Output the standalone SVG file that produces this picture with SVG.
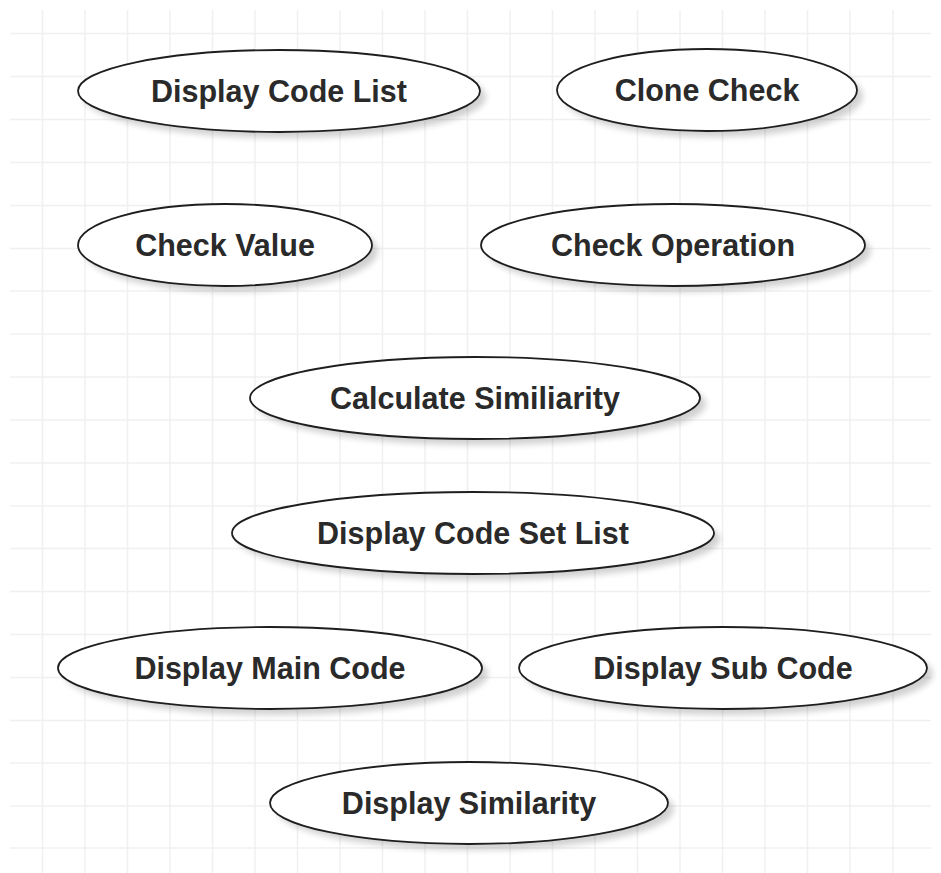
<svg xmlns="http://www.w3.org/2000/svg" width="941" height="873" viewBox="0 0 941 873">
<style>
.grid line{stroke:#f0f0f0;stroke-width:1.5}
.node ellipse{fill:#fff;stroke:#1e1e1e;stroke-width:1.8}
.node .sh{fill:#000;stroke:none;opacity:0.18;filter:url(#blur)}
.node text{font-family:"Liberation Sans",Arial,sans-serif;font-weight:bold;font-size:30.5px;fill:#2a2a2a;text-anchor:middle}
</style>
<defs>
<filter id="blur" x="-20%" y="-50%" width="140%" height="200%"><feGaussianBlur stdDeviation="3"/></filter>
</defs>
<rect width="941" height="873" fill="#fff"/>
<g class="grid">
<line x1="42.5" y1="10" x2="42.5" y2="873"/><line x1="85" y1="10" x2="85" y2="873"/><line x1="127.5" y1="10" x2="127.5" y2="873"/><line x1="170" y1="10" x2="170" y2="873"/><line x1="212.5" y1="10" x2="212.5" y2="873"/><line x1="255" y1="10" x2="255" y2="873"/><line x1="297.5" y1="10" x2="297.5" y2="873"/><line x1="340" y1="10" x2="340" y2="873"/><line x1="382.5" y1="10" x2="382.5" y2="873"/><line x1="425" y1="10" x2="425" y2="873"/><line x1="467.5" y1="10" x2="467.5" y2="873"/><line x1="510" y1="10" x2="510" y2="873"/><line x1="552.5" y1="10" x2="552.5" y2="873"/><line x1="595" y1="10" x2="595" y2="873"/><line x1="637.5" y1="10" x2="637.5" y2="873"/><line x1="680" y1="10" x2="680" y2="873"/><line x1="722.5" y1="10" x2="722.5" y2="873"/><line x1="765" y1="10" x2="765" y2="873"/><line x1="807.5" y1="10" x2="807.5" y2="873"/><line x1="850" y1="10" x2="850" y2="873"/><line x1="893" y1="10" x2="893" y2="873"/>
<line x1="10" y1="33.5" x2="931" y2="33.5"/><line x1="10" y1="76.5" x2="931" y2="76.5"/><line x1="10" y1="119.5" x2="931" y2="119.5"/><line x1="10" y1="162.5" x2="931" y2="162.5"/><line x1="10" y1="205.5" x2="931" y2="205.5"/><line x1="10" y1="248.5" x2="931" y2="248.5"/><line x1="10" y1="291" x2="931" y2="291"/><line x1="10" y1="334" x2="931" y2="334"/><line x1="10" y1="377" x2="931" y2="377"/><line x1="10" y1="420" x2="931" y2="420"/><line x1="10" y1="463" x2="931" y2="463"/><line x1="10" y1="506" x2="931" y2="506"/><line x1="10" y1="548.5" x2="931" y2="548.5"/><line x1="10" y1="591.5" x2="931" y2="591.5"/><line x1="10" y1="634.5" x2="931" y2="634.5"/><line x1="10" y1="677.5" x2="931" y2="677.5"/><line x1="10" y1="720.5" x2="931" y2="720.5"/><line x1="10" y1="763" x2="931" y2="763"/><line x1="10" y1="806" x2="931" y2="806"/><line x1="10" y1="848" x2="931" y2="848"/>
</g>
<g id="connectors"></g>
<g id="display-code-list" class="node"><ellipse class="sh" cx="285" cy="97" rx="201" ry="41"/><ellipse cx="279" cy="91" rx="201" ry="41"/><text x="279" y="102">Display Code List</text></g>
<g id="clone-check" class="node"><ellipse class="sh" cx="713" cy="96" rx="150" ry="41"/><ellipse cx="707" cy="90" rx="150" ry="41"/><text x="707" y="101">Clone Check</text></g>
<g id="check-value" class="node"><ellipse class="sh" cx="231" cy="251" rx="147" ry="41"/><ellipse cx="225" cy="245" rx="147" ry="41"/><text x="225" y="256">Check Value</text></g>
<g id="check-operation" class="node"><ellipse class="sh" cx="679" cy="251" rx="192" ry="41"/><ellipse cx="673" cy="245" rx="192" ry="41"/><text x="673" y="256">Check Operation</text></g>
<g id="calculate-similiarity" class="node"><ellipse class="sh" cx="481" cy="404" rx="225" ry="41"/><ellipse cx="475" cy="398" rx="225" ry="41"/><text x="475" y="409">Calculate Similiarity</text></g>
<g id="display-code-set-list" class="node"><ellipse class="sh" cx="479" cy="539" rx="241" ry="41"/><ellipse cx="473" cy="533" rx="241" ry="41"/><text x="473" y="544">Display Code Set List</text></g>
<g id="display-main-code" class="node"><ellipse class="sh" cx="276" cy="674" rx="212" ry="41"/><ellipse cx="270" cy="668" rx="212" ry="41"/><text x="270" y="679">Display Main Code</text></g>
<g id="display-sub-code" class="node"><ellipse class="sh" cx="729" cy="674" rx="204" ry="41"/><ellipse cx="723" cy="668" rx="204" ry="41"/><text x="723" y="679">Display Sub Code</text></g>
<g id="display-similarity" class="node"><ellipse class="sh" cx="475" cy="809" rx="199" ry="41"/><ellipse cx="469" cy="803" rx="199" ry="41"/><text x="469" y="814">Display Similarity</text></g>
</svg>
